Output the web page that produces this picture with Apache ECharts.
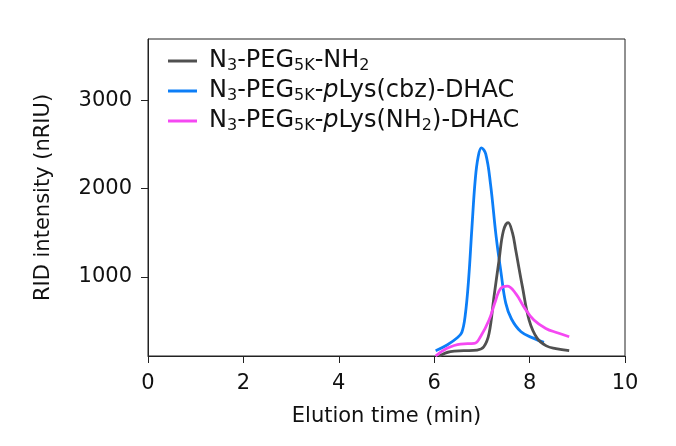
<!DOCTYPE html>
<html>
<head>
<meta charset="utf-8">
<script src="https://cdn.jsdelivr.net/npm/echarts@6/dist/echarts.min.js"></script>
<style>html,body{margin:0;padding:0;background:#fff}#c{width:676px;height:446px}</style>
</head>
<body>
<div id="c"></div>
<script>
// Series names and legend labels (rich text with subscripts)
const seriesNames = ['N3-PEG5K-NH2', 'N3-PEG5K-pLys(cbz)-DHAC', 'N3-PEG5K-pLys(NH2)-DHAC'];
const legendLabels = [
  '{g| }{n|N}{s|3}{n|-PEG}{s|5K}{n|-NH}{s|2}',
  '{g| }{n|N}{s|3}{n|-PEG}{s|5K}{n|-}{i|p}{n|Lys(cbz)-DHAC}',
  '{g| }{n|N}{s|3}{n|-PEG}{s|5K}{n|-}{i|p}{n|Lys(NH}{s|2}{n|)-DHAC}'
];
const colors = ['#505050', '#0c7ef7', '#f548f2'];

// Elution time (min) and RID intensity (nRIU)
const grayT = [6.10, 6.34, 6.62, 6.90, 7.04, 7.15, 7.25, 7.36, 7.45, 7.55, 7.64, 7.71, 7.85, 7.99, 8.16, 8.35, 8.55, 8.83];
const grayV = [100, 150, 160, 168, 205, 356, 760, 1190, 1520, 1615, 1500, 1300, 885, 508, 300, 215, 185, 160];

const blueT = [6.03, 6.27, 6.49, 6.58, 6.65, 6.72, 6.79, 6.86, 6.92, 6.99, 7.08, 7.18, 7.30, 7.40, 7.50, 7.62, 7.82, 8.09, 8.30];
const blueV = [160, 225, 310, 370, 560, 960, 1550, 2100, 2357, 2463, 2395, 2055, 1450, 1050, 700, 520, 375, 300, 254];

const magT = [6.03, 6.27, 6.55, 6.84, 6.97, 7.15, 7.29, 7.39, 7.53, 7.71, 7.88, 8.09, 8.34, 8.58, 8.83];
const magV = [100, 187, 236, 243, 319, 508, 734, 866, 893, 809, 658, 508, 413, 364, 319];

const xTicks = [0, 2, 4, 6, 8, 10];
const yTicks = [1000, 2000, 3000];

function pairs(t, v) { return t.map((x, i) => [x, v[i]]); }

const chart = echarts.init(document.getElementById('c'), null, {renderer: 'canvas'});
const FONT = 'DejaVu Sans, Liberation Sans, sans-serif';
const richStyles = {
  g: {width: 7, fontSize: 10, lineHeight: 26},
  n: {fontSize: 24, fontFamily: FONT, color: '#111', lineHeight: 26},
  s: {fontSize: 16, fontFamily: FONT, color: '#111', lineHeight: 16, verticalAlign: 'bottom', padding: [10, 0, 0, 0]},
  i: {fontSize: 24, fontFamily: FONT, color: '#111', fontStyle: 'italic', lineHeight: 26}
};

chart.setOption({
  animation: false,
  backgroundColor: '#ffffff',
  color: colors,
  grid: {left: 148, right: 51, top: 39, bottom: 90, show: true, borderColor: '#222', borderWidth: 1, backgroundColor: 'transparent'},
  legend: {
    orient: 'vertical', left: 163, top: 43, itemGap: 4, itemWidth: 29, itemHeight: 3,
    icon: 'rect',
    data: seriesNames,
    formatter: function (name) { return legendLabels[seriesNames.indexOf(name)]; },
    textStyle: {rich: richStyles, fontSize: 24, fontFamily: FONT, color: '#111'}
  },
  xAxis: {
    type: 'value', min: 0, max: 10, interval: 2,
    name: 'Elution time (min)', nameLocation: 'middle', nameGap: 50,
    nameTextStyle: {fontSize: 21, fontFamily: FONT, color: '#111'},
    axisLine: {show: true, lineStyle: {color: '#222', width: 1}},
    axisTick: {show: true, inside: false, length: 7, lineStyle: {color: '#222'}, customValues: xTicks},
    axisLabel: {fontSize: 21, fontFamily: FONT, color: '#111', margin: 17, customValues: xTicks},
    splitLine: {show: false}
  },
  yAxis: {
    type: 'value', min: 100, max: 3700,
    name: 'RID intensity (nRIU)', nameLocation: 'middle', nameGap: 94,
    nameTextStyle: {fontSize: 21, fontFamily: FONT, color: '#111'},
    axisLine: {show: true, lineStyle: {color: '#222', width: 1}},
    axisTick: {show: true, inside: false, length: 7, lineStyle: {color: '#222'}, customValues: yTicks},
    axisLabel: {fontSize: 21, fontFamily: FONT, color: '#111', margin: 16, customValues: yTicks,
      formatter: function (v) { return String(v); }},
    splitLine: {show: false}
  },
  series: [
    {name: seriesNames[0], type: 'line', smooth: 0.4, showSymbol: false, data: pairs(grayT, grayV), lineStyle: {width: 2.8, color: colors[0]}, z: 3},
    {name: seriesNames[1], type: 'line', smooth: 0.4, showSymbol: false, data: pairs(blueT, blueV), lineStyle: {width: 2.8, color: colors[1]}, z: 2},
    {name: seriesNames[2], type: 'line', smooth: 0.4, showSymbol: false, data: pairs(magT, magV), lineStyle: {width: 2.8, color: colors[2]}, z: 4}
  ]
});
</script>
</body>
</html>
